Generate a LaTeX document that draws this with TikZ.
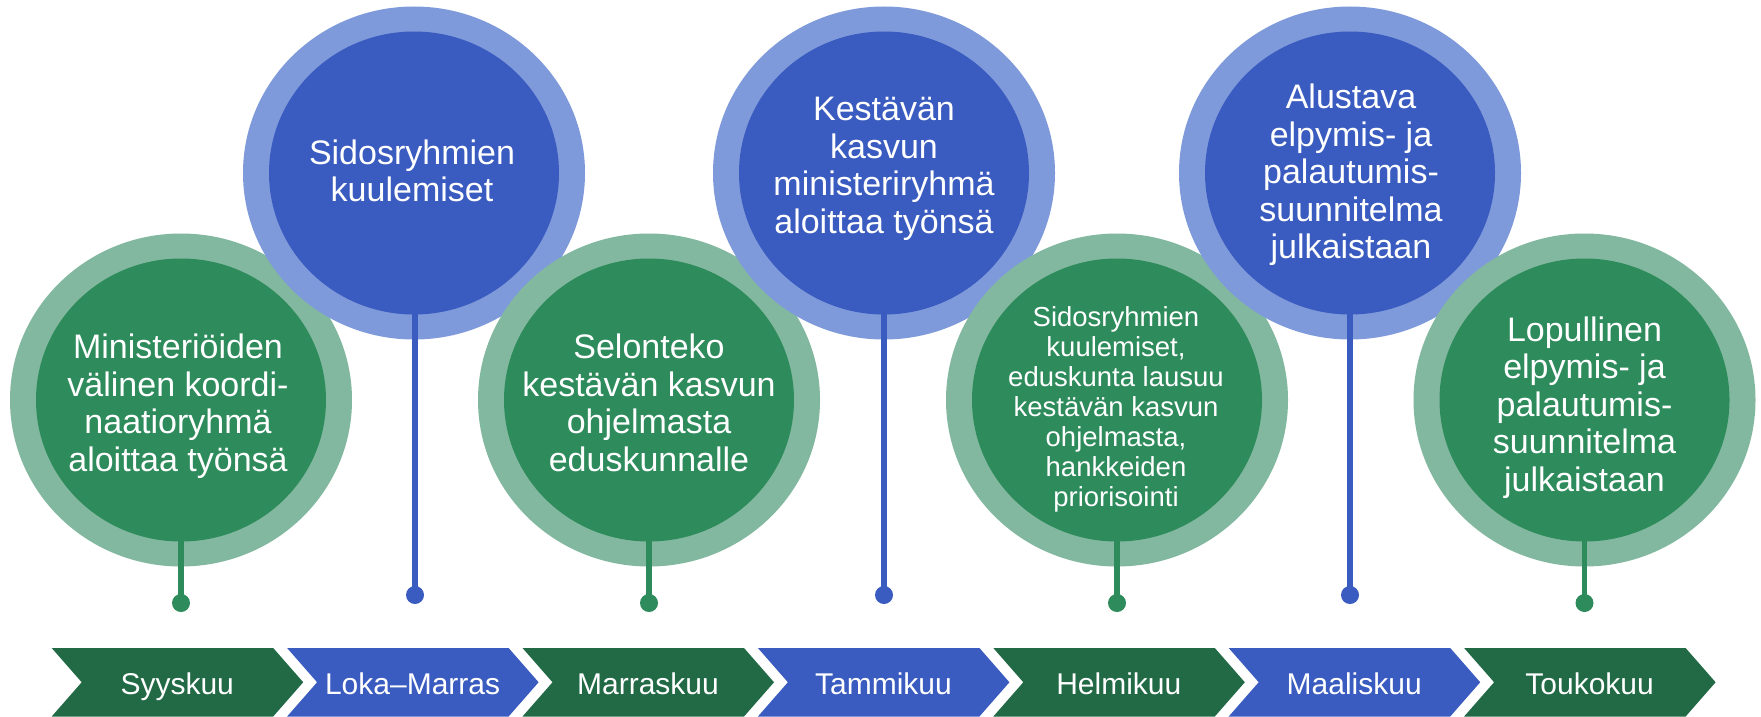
\documentclass[tikz,border=0pt]{standalone}
\usepackage{fontspec}
\setmainfont{Liberation Sans}
\usetikzlibrary{shapes.geometric}
\definecolor{gin}{HTML}{2E8B5C}
\definecolor{gring}{HTML}{82B89F}
\definecolor{bin}{HTML}{3A5BBF}
\definecolor{bring}{HTML}{7F9ADA}
\definecolor{chg}{HTML}{216A45}
\definecolor{chb}{HTML}{3A5BBF}
\newcommand\ms{\vrule width 0pt height 26pt depth 10pt}
\newcommand\mss{\vrule width 0pt height 21pt depth 8pt}
\tikzset{
  ring/.style={ellipse, minimum width=342pt, minimum height=333pt, inner sep=0pt, draw=none},
  core/.style={ellipse, minimum width=290pt, minimum height=283pt, inner sep=0pt, draw=none},
  lbl/.style={text=white, align=center, inner sep=0pt, font=\fontsize{34}{37.5}\selectfont},
  lblsmall/.style={text=white, align=center, inner sep=0pt, font=\fontsize{27.5}{30}\selectfont},
  dotg/.style={circle, fill=gin, minimum size=18pt, inner sep=0pt},
  dotb/.style={circle, fill=bin, minimum size=18pt, inner sep=0pt},
  stemg/.style={draw=gin, line width=5.7pt},
  stemb/.style={draw=bin, line width=5.7pt},
  chev/.style={text=white, inner sep=0pt, font=\fontsize{30}{36}\selectfont}
}
\begin{document}
\begin{tikzpicture}[x=1pt,y=-1pt]
\useasboundingbox (0,0) rectangle (1761,717);
\fill[white] (0,0) rectangle (1761,717);

% 1 green
\node[ring,fill=gring] (g1o) at (181,400) {};
\node[core,fill=gin] (g1i) at (181,400) {};
\node[lbl] (g1t) at (178,407.2) {\ms Ministeriöiden\\välinen koordi-\\naatioryhmä\\aloittaa työnsä\ms};
\coordinate (g1s) at (181,521);
\node[dotg] (g1d) at (181,603) {};
\draw[stemg] (g1s) -- (g1d.center);

% 2 blue
\node[ring,fill=bring] (b1o) at (414,173) {};
\node[core,fill=bin] (b1i) at (414,173) {};
\node[lbl] (b1t) at (412,175.2) {\ms Sidosryhmien\\kuulemiset\ms};
\coordinate (b1s) at (415,300);
\node[dotb] (b1d) at (415,595) {};
\draw[stemb] (b1s) -- (b1d.center);

% 3 green
\node[ring,fill=gring] (g2o) at (649,400) {};
\node[core,fill=gin] (g2i) at (649,400) {};
\node[lbl] (g2t) at (649,407.2) {\ms Selonteko\\kestävän kasvun\\ohjelmasta\\eduskunnalle\ms};
\coordinate (g2s) at (649,521);
\node[dotg] (g2d) at (649,603) {};
\draw[stemg] (g2s) -- (g2d.center);

% 4 blue
\node[ring,fill=bring] (b2o) at (884,173) {};
\node[core,fill=bin] (b2i) at (884,173) {};
\node[lbl] (b2t) at (884,169.2) {\ms Kestävän\\kasvun\\ministeriryhmä\\aloittaa työnsä\ms};
\coordinate (b2s) at (884,300);
\node[dotb] (b2d) at (884,595) {};
\draw[stemb] (b2s) -- (b2d.center);

% 5 green
\node[ring,fill=gring] (g3o) at (1117,400) {};
\node[core,fill=gin] (g3i) at (1117,400) {};
\node[lblsmall] (g3t) at (1116,410.4) {\mss Sidosryhmien\\kuulemiset,\\eduskunta lausuu\\kestävän kasvun\\ohjelmasta,\\hankkeiden\\priorisointi\mss};
\coordinate (g3s) at (1117,521);
\node[dotg] (g3d) at (1117,603) {};
\draw[stemg] (g3s) -- (g3d.center);

% 6 blue
\node[ring,fill=bring] (b3o) at (1350,173) {};
\node[core,fill=bin] (b3i) at (1350,173) {};
\node[lbl] (b3t) at (1351,175.7) {\ms Alustava\\elpymis- ja\\palautumis-\\suunnitelma\\julkaistaan\ms};
\coordinate (b3s) at (1350,300);
\node[dotb] (b3d) at (1350,595) {};
\draw[stemb] (b3s) -- (b3d.center);

% 7 green
\node[ring,fill=gring] (g4o) at (1584.5,400) {};
\node[core,fill=gin] (g4i) at (1584.5,400) {};
\node[lbl] (g4t) at (1584.5,408.2) {\ms Lopullinen\\elpymis- ja\\palautumis-\\suunnitelma\\julkaistaan\ms};
\coordinate (g4s) at (1584.5,521);
\node[dotg] (g4d) at (1584.5,603) {};
\draw[stemg] (g4s) -- (g4d.center);

% month chevrons
\foreach \i/\c/\t in {0/chg/Syyskuu,1/chb/Loka–Marras,2/chg/Marraskuu,3/chb/Tammikuu,4/chg/Helmikuu,5/chb/Maaliskuu,6/chg/Toukokuu} {
  \pgfmathsetmacro\xo{51.7+235.4*\i}
  \fill[\c] (\xo,648) -- ++(221.5,0) -- ++(30,34.25) -- ++(-30,34.25) -- ++(-221.5,0) -- ++(30,-34.25) -- cycle;
  \node[chev,anchor=base] (m\i) at (\xo+125.5,694.5) {\t};
}
\end{tikzpicture}
\end{document}
